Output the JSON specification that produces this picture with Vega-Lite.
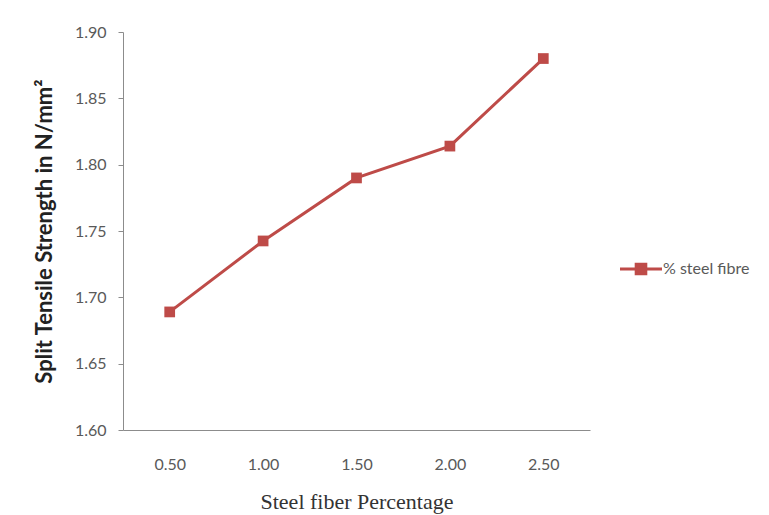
{
  "$schema": "https://vega.github.io/schema/vega-lite/v6.json",
  "autosize": {"type": "none"},
  "width": 467,
  "height": 398,
  "padding": {"left": 123, "top": 32, "right": 179, "bottom": 85},
  "background": "white",
  "config": {
    "view": {"stroke": null},
    "font": "Lato"
  },
  "data": {
    "values": [
      {"pct": "0.50", "strength": 1.689, "series": "% steel fibre"},
      {"pct": "1.00", "strength": 1.7425, "series": "% steel fibre"},
      {"pct": "1.50", "strength": 1.790, "series": "% steel fibre"},
      {"pct": "2.00", "strength": 1.814, "series": "% steel fibre"},
      {"pct": "2.50", "strength": 1.880, "series": "% steel fibre"}
    ]
  },
  "mark": {
    "type": "line",
    "strokeWidth": 3,
    "point": {"shape": "square", "size": 115, "filled": true, "opacity": 1}
  },
  "encoding": {
    "x": {
      "field": "pct",
      "type": "ordinal",
      "sort": ["0.50", "1.00", "1.50", "2.00", "2.50"],
      "scale": {"paddingInner": 0, "paddingOuter": 0},
      "axis": {
        "title": "Steel fiber Percentage",
        "titleFont": "Liberation Serif",
        "titleFontSize": 22,
        "titleFontWeight": "normal",
        "titleColor": "#333333",
        "titlePadding": 19,
        "labelAngle": 0,
        "labelFontSize": 16,
        "labelColor": "#595959",
        "labelPadding": 26,
        "ticks": false,
        "domainColor": "#8c8c8c",
        "grid": false
      }
    },
    "y": {
      "field": "strength",
      "type": "quantitative",
      "scale": {"domain": [1.6, 1.9], "zero": false, "nice": false},
      "axis": {
        "title": "Split Tensile Strength in N/mm²",
        "titleFont": "Lato",
        "titleFontSize": 22,
        "titleFontWeight": "bold",
        "titleColor": "#222222",
        "titlePadding": 18,
        "values": [1.6, 1.65, 1.7, 1.75, 1.8, 1.85, 1.9],
        "format": ".2f",
        "labelFontSize": 16,
        "labelColor": "#595959",
        "labelPadding": 12,
        "tickSize": 5,
        "tickColor": "#8c8c8c",
        "domainColor": "#8c8c8c",
        "grid": false
      }
    },
    "color": {
      "field": "series",
      "type": "nominal",
      "scale": {"range": ["#be4b48"]},
      "legend": {
        "title": null,
        "orient": "none",
        "legendX": 497,
        "legendY": 216,
        "symbolType": "M-1,-0.075H1V0.075H-1Z M-0.3,-0.3H0.3V0.3H-0.3Z",
        "symbolSize": 1764,
        "symbolStrokeWidth": 0,
        "labelFontSize": 16,
        "labelColor": "#595959",
        "labelOffset": 1,
        "encode": {
          "symbols": {"update": {"fill": {"value": "#be4b48"}, "stroke": {"value": "transparent"}}}
        }
      }
    }
  }
}
